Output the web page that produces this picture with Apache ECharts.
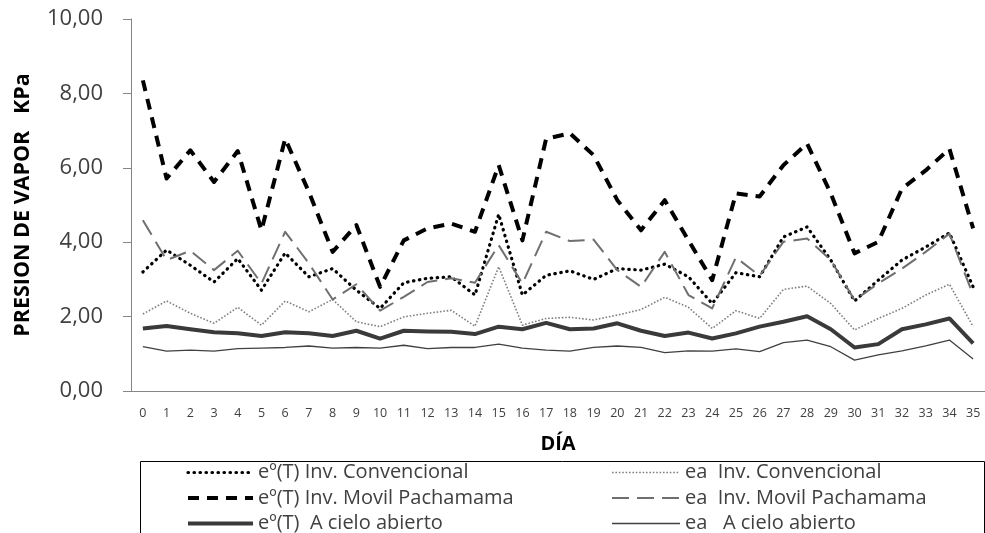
<!DOCTYPE html>
<html>
<head>
<meta charset="utf-8">
<script src="https://cdn.jsdelivr.net/npm/echarts@6/dist/echarts.min.js"></script>
<style>html,body{margin:0;padding:0;background:#fff}#c{width:985px;height:533px}</style>
</head>
<body>
<div id="c"></div>
<script>
const days = ['0','1','2','3','4','5','6','7','8','9','10','11','12','13','14','15','16','17','18','19','20','21','22','23','24','25','26','27','28','29','30','31','32','33','34','35'];
const yTicks = [0, 2, 4, 6, 8, 10];

const eoConvencional = [3.20,3.79,3.38,2.93,3.56,2.71,3.71,3.07,3.29,2.71,2.22,2.91,3.03,3.07,2.58,4.75,2.58,3.11,3.23,3.00,3.29,3.25,3.41,3.07,2.35,3.18,3.07,4.14,4.41,3.52,2.42,2.98,3.52,3.87,4.25,2.80];
const eaConvencional = [2.07,2.42,2.09,1.82,2.25,1.77,2.42,2.13,2.46,1.86,1.73,1.99,2.09,2.17,1.74,3.34,1.77,1.95,1.98,1.91,2.04,2.19,2.52,2.25,1.68,2.16,1.95,2.73,2.82,2.35,1.64,1.95,2.22,2.58,2.87,1.73];
const eoMovil = [8.35,5.71,6.47,5.62,6.45,4.32,6.78,5.35,3.74,4.46,2.80,4.05,4.37,4.50,4.28,6.07,4.05,6.78,6.93,6.34,5.13,4.32,5.13,4.05,2.98,5.31,5.23,6.07,6.65,5.31,3.70,4.01,5.44,5.93,6.51,4.37];
const eaMovil = [4.59,3.52,3.77,3.25,3.77,2.89,4.28,3.43,2.46,2.87,2.16,2.53,2.93,3.03,2.91,3.92,2.89,4.28,4.03,4.07,3.25,2.80,3.74,2.58,2.22,3.59,3.10,4.01,4.10,3.52,2.44,2.89,3.29,3.74,4.23,2.58];
const eoAbierto = [1.68,1.75,1.66,1.58,1.55,1.48,1.58,1.55,1.48,1.62,1.41,1.62,1.60,1.59,1.53,1.73,1.66,1.83,1.66,1.68,1.82,1.62,1.48,1.57,1.41,1.55,1.73,1.86,2.01,1.66,1.17,1.26,1.66,1.79,1.95,1.28];
const eaAbierto = [1.19,1.07,1.10,1.07,1.14,1.15,1.17,1.21,1.15,1.17,1.15,1.23,1.14,1.17,1.17,1.26,1.15,1.10,1.07,1.17,1.21,1.17,1.03,1.08,1.07,1.13,1.06,1.30,1.37,1.19,0.83,0.97,1.08,1.21,1.37,0.86];

const names = {
  eoC: 'eº(T) Inv. Convencional',
  eaC: 'ea  Inv. Convencional',
  eoM: 'eº(T) Inv. Movil Pachamama',
  eaM: 'ea  Inv. Movil Pachamama',
  eoA: 'eº(T)  A cielo abierto',
  eaA: 'ea   A cielo abierto'
};

const FONT = '"Open Sans", Lato, sans-serif';
const chart = echarts.init(document.getElementById('c'), null, {renderer: 'canvas'});

function mk(name, data, color, width, type, cap) {
  return {
    name: name, type: 'line', data: data, symbol: 'none', showSymbol: false,
    animation: false, silent: true,
    lineStyle: {color: color, width: width, type: type, cap: cap || 'butt', join: 'round'},
    itemStyle: {color: color}
  };
}

const legendCommon = {
  orient: 'vertical', padding: 0, itemGap: 5.5, itemHeight: 14,
  height: 120, width: 360,
  selectedMode: false,
  textStyle: {fontFamily: FONT, fontSize: 20, color: '#404040', lineHeight: 20},
  itemStyle: {opacity: 0},
  lineStyle: {width: 'inherit', type: 'inherit', cap: 'inherit'}
};

chart.setOption({
  backgroundColor: '#fff',
  animation: false,
  grid: {left: 131, right: -2, top: 19, bottom: 142, containLabel: false},
  xAxis: {
    type: 'category', data: days, boundaryGap: true,
    name: 'DÍA', nameLocation: 'middle', nameGap: 43.5,
    nameTextStyle: {fontFamily: FONT, fontSize: 20, fontWeight: 'bold', color: '#000'},
    axisLine: {lineStyle: {color: '#868686', width: 1}},
    axisTick: {alignWithLabel: true, length: 6, lineStyle: {color: '#868686'}},
    axisLabel: {fontFamily: FONT, fontSize: 12.5, color: '#404040', margin: 16, interval: 0}
  },
  yAxis: {
    type: 'value', min: yTicks[0], max: yTicks[yTicks.length - 1], interval: 2,
    name: 'PRESION DE VAPOR   KPa', nameLocation: 'middle', nameGap: 97,
    nameTextStyle: {fontFamily: FONT, fontSize: 21.5, fontWeight: 'bold', color: '#000'},
    axisLine: {show: true, lineStyle: {color: '#868686', width: 1}},
    axisTick: {show: true, length: 8, lineStyle: {color: '#868686'}},
    splitLine: {show: false},
    axisLabel: {fontFamily: FONT, fontSize: 22, color: '#404040', margin: 28,
      formatter: v => v.toFixed(2).replace('.', ',')}
  },
  legend: [
    Object.assign({}, legendCommon, {left: 186, top: 462.5, itemWidth: 65,
      data: [names.eoC, names.eoM, names.eoA]}),
    Object.assign({}, legendCommon, {left: 611, top: 462.5, itemWidth: 68,
      data: [names.eaC, names.eaM, names.eaA]})
  ],
  graphic: [{
    type: 'rect', left: 138, top: 459, silent: true,
    shape: {width: 844, height: 90},
    style: {fill: 'none', stroke: '#000', lineWidth: 1}
  }],
  series: [
    mk(names.eoC, eoConvencional, '#000000', 3.2, [0.5, 5.5], 'round'),
    mk(names.eaC, eaConvencional, '#7f7f7f', 1.6, [1.6, 1.8]),
    mk(names.eoM, eoMovil, '#000000', 4, [11, 8]),
    mk(names.eaM, eaMovil, '#6f6f6f', 2, [17, 8]),
    mk(names.eoA, eoAbierto, '#3a3a3a', 4),
    mk(names.eaA, eaAbierto, '#404040', 1.3)
  ]
});
</script>
</body>
</html>
